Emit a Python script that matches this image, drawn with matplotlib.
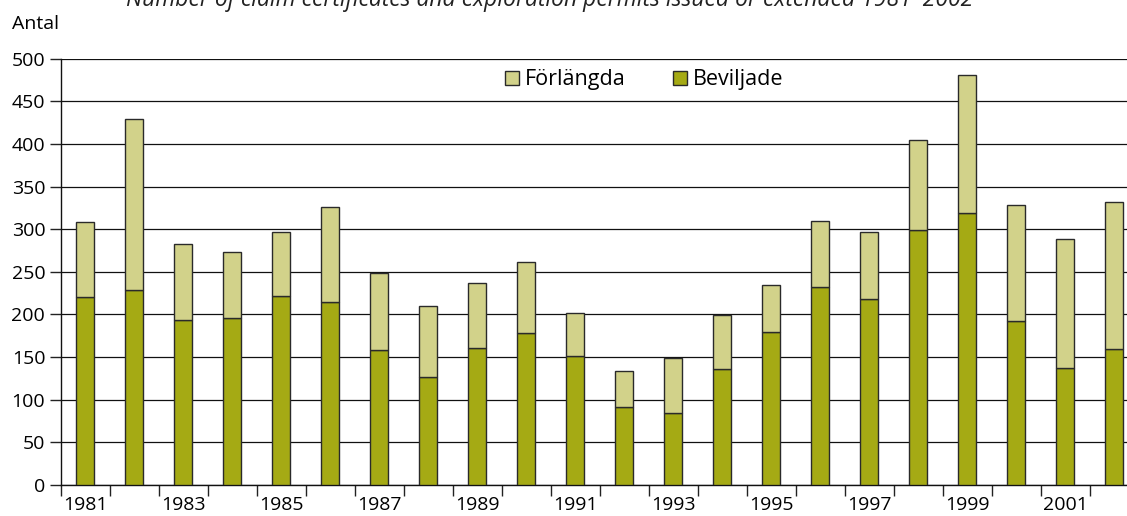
import matplotlib
matplotlib.use("Agg")
import matplotlib.pyplot as plt
import numpy as np
from matplotlib.ticker import FixedLocator, MultipleLocator

years = list(range(1981, 2003))
beviljade = [220, 229, 194, 196, 222, 215, 158, 127, 161, 178, 151,
             91, 84, 136, 180, 232, 218, 299, 319, 192, 137, 159]
totals = [308, 429, 283, 273, 297, 326, 249, 210, 237, 261, 202,
          134, 149, 199, 235, 310, 297, 405, 481, 328, 288, 332]
forlangda = [t - b for t, b in zip(totals, beviljade)]
tick_labels = [str(y) if (y - 1981) % 2 == 0 else "" for y in years]

title = "Number of claim certificates and exploration permits issued or extended 1981–2002"

plt.rcParams['font.family'] = ['Open Sans', 'DejaVu Sans']

W, H = 1127, 516
fig = plt.figure(figsize=(W / 100, H / 100), dpi=100)
left_px, bottom_px, top_px = 60.5, 485.0, 58.7
ax = fig.add_axes([left_px / W, (H - bottom_px) / H, 1 - left_px / W,
                   (bottom_px - top_px) / H])

dark = '#A5AA14'
light = '#D2D28A'
edge = '#2a2a2a'
x = np.arange(len(years))
bw = 0.38
ax.bar(x, beviljade, width=bw, color=dark, edgecolor=edge, linewidth=1.0,
       label='Beviljade', zorder=3)
ax.bar(x, forlangda, width=bw, bottom=beviljade, color=light, edgecolor=edge,
       linewidth=1.0, label='Förlängda', zorder=3)

cat_w = 49.0
ax.set_xlim(-0.5, -0.5 + (W - left_px) / cat_w)
ax.set_ylim(0, 500)

ax.yaxis.set_major_locator(MultipleLocator(50))
ax.grid(axis='y', color='#111111', linewidth=0.9, zorder=0)
ax.set_axisbelow(True)

ax.xaxis.set_major_locator(FixedLocator(x))
ax.set_xticklabels(tick_labels)
ax.xaxis.set_minor_locator(FixedLocator(np.arange(-0.5, len(years), 1.0)))
ax.tick_params(axis='x', which='major', length=0, pad=8, labelsize=14)
ax.tick_params(axis='x', which='minor', length=8, width=1, color='#222222', direction='out')
ax.tick_params(axis='y', length=8, width=1, color='#222222', labelsize=14, pad=3)

for s in ['top', 'right']:
    ax.spines[s].set_visible(False)
for s in ['left', 'bottom']:
    ax.spines[s].set_color('#111111')
    ax.spines[s].set_linewidth(1.0)

handles, labels = ax.get_legend_handles_labels()
leg = ax.legend(handles[::-1], labels[::-1], loc='center',
                bbox_to_anchor=((644 - left_px) / (W - left_px), (485 - 80) / (485 - 58.7)),
                ncol=2, frameon=False, fontsize=15.5, handlelength=0.65,
                handleheight=0.65, handletextpad=0.28, columnspacing=2.2)

fig.text(12 / W, 1 - 24 / H, 'Antal', fontsize=14, ha='left', va='center')
fig.text(550 / W, 1 - 6 / H, title, fontsize=16.5, style='italic', color='#222222',
         ha='center', va='baseline')

fig.savefig('out.png', dpi=100)
